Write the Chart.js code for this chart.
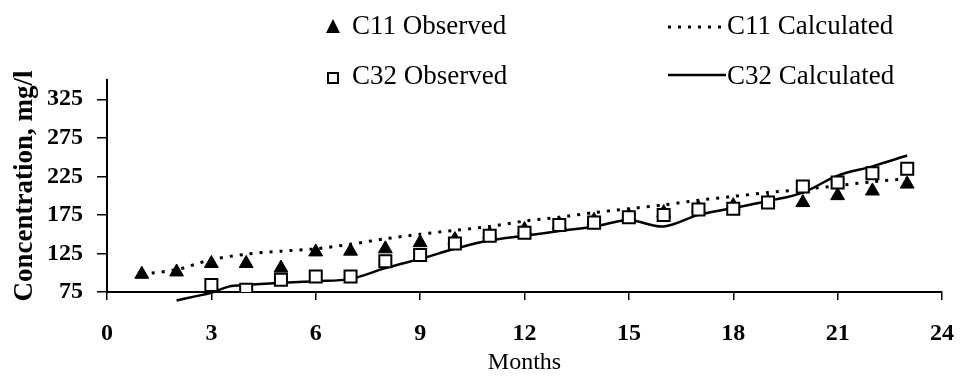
<!DOCTYPE html>
<html>
<head>
<meta charset="utf-8">
<script src="https://cdn.jsdelivr.net/npm/chart.js@4.4.0/dist/chart.umd.min.js"></script>
<style>
  html, body { margin: 0; padding: 0; background: #fff; }
  #wrap { width: 962px; height: 384px; }
</style>
</head>
<body>
<div id="wrap"><canvas id="chart"></canvas></div>
<script>
const months = [1, 2, 3, 4, 5, 6, 7, 8, 9, 10, 11, 12, 13, 14, 15, 16, 17, 18, 19, 20, 21, 22, 23];
const c11Observed = [98, 101, 112, 112, 106, 127, 128, 131, 139, 143, 150, 156, 163, 168, 174, 178, 184, 187, 192, 191, 200, 206, 215];
const c11Calculated = [98, 104, 117, 124, 128, 131, 137, 144, 150, 155, 160, 167, 172, 178, 183, 188, 194, 199, 204, 208, 213, 218, 222];

const c32Months = [3, 4, 5, 6, 7, 8, 9, 10, 11, 12, 13, 14, 15, 16, 17, 18, 19, 20, 21, 22, 23];
const c32Observed = [84, 78, 91, 95, 95, 115, 123, 138, 148, 152, 162, 165, 172, 175, 182, 183, 191, 212, 217, 229, 235];

const c32CalcMonths = [2, 2.5, 3, 3.5, 4, 5, 6, 7, 8, 9, 10, 11, 12, 13, 14, 15, 16, 17, 18, 19, 20, 21, 22, 23];
const c32Calculated = [64, 69, 74, 82, 84, 87, 89, 92, 106, 118, 131, 142, 148, 154, 160, 168, 160, 175, 184, 193, 204, 226, 238, 252];

const xTicks = [0, 3, 6, 9, 12, 15, 18, 21, 24];
const yTicks = [75, 125, 175, 225, 275, 325];

const FONT = "'Liberation Serif', 'Times New Roman', serif";

function toPoints(xs, ys) {
    return xs.map((x, i) => ({ x: x, y: ys[i] }));
}

// Legende in zwei Spalten wie im Original
const legendPlugin = {
    id: 'twoColLegend',
    afterDraw(chart) {
        const ctx = chart.ctx;
        const ds = chart.data.datasets;
        ctx.save();
        ctx.font = "27px " + FONT;
        ctx.fillStyle = '#000';
        ctx.textBaseline = 'middle';
        ctx.textAlign = 'left';

        // C11 Observed
        ctx.beginPath();
        ctx.moveTo(333, 19);
        ctx.lineTo(340, 33);
        ctx.lineTo(326, 33);
        ctx.closePath();
        ctx.fillStyle = ds[0].backgroundColor;
        ctx.fill();
        ctx.fillStyle = '#000';
        ctx.fillText(ds[0].label, 352, 27);

        // C32 Observed
        ctx.lineWidth = 2;
        ctx.strokeStyle = ds[2].borderColor;
        ctx.fillStyle = '#fff';
        ctx.fillRect(328, 73, 10, 10);
        ctx.strokeRect(328, 73, 10, 10);
        ctx.fillStyle = '#000';
        ctx.fillText(ds[2].label, 352, 77);

        // C11 Calculated
        ctx.beginPath();
        ctx.setLineDash(ds[1].borderDash);
        ctx.lineWidth = ds[1].borderWidth;
        ctx.strokeStyle = ds[1].borderColor;
        ctx.moveTo(668, 27);
        ctx.lineTo(724, 27);
        ctx.stroke();
        ctx.fillText(ds[1].label, 727, 27);

        // C32 Calculated
        ctx.beginPath();
        ctx.setLineDash([]);
        ctx.lineWidth = ds[3].borderWidth;
        ctx.strokeStyle = ds[3].borderColor;
        ctx.moveTo(668, 75);
        ctx.lineTo(726, 75);
        ctx.stroke();
        ctx.fillText(ds[3].label, 727, 77);
        ctx.restore();
    }
};

const ctx = document.getElementById('chart').getContext('2d');
const chart = new Chart(ctx, {
    type: 'line',
    data: {
        datasets: [
            {
                label: 'C11 Observed',
                data: toPoints(months, c11Observed),
                showLine: false,
                pointStyle: 'triangle',
                pointRadius: 8,
                backgroundColor: '#000',
                borderColor: '#000',
                pointBorderWidth: 1,
                order: 1
            },
            {
                label: 'C11 Calculated',
                data: toPoints(months, c11Calculated),
                borderColor: '#000',
                borderWidth: 3,
                borderDash: [3, 7],
                pointRadius: 0,
                tension: 0.3,
                fill: false,
                order: 3
            },
            {
                label: 'C32 Observed',
                data: toPoints(c32Months, c32Observed),
                showLine: false,
                pointStyle: 'rect',
                pointRadius: 8.5,
                backgroundColor: '#fff',
                borderColor: '#000',
                pointBorderWidth: 2,
                order: 0
            },
            {
                label: 'C32 Calculated',
                data: toPoints(c32CalcMonths, c32Calculated),
                borderColor: '#000',
                borderWidth: 2.5,
                pointRadius: 0,
                tension: 0.35,
                fill: false,
                clip: false,
                order: 2
            }
        ]
    },
    options: {
        responsive: true,
        maintainAspectRatio: false,
        animation: false,
        layout: {
            padding: { top: 80, left: 9, right: 20, bottom: 7 }
        },
        scales: {
            x: {
                type: 'linear',
                min: 0,
                max: 24,
                afterBuildTicks: scale => { scale.ticks = xTicks.map(v => ({ value: v })); },
                afterFit: scale => {
                    scale.height = 384 - 292 - 7;
                    scale.paddingLeft = 0;
                    scale.paddingRight = 0;
                },
                border: { display: true, color: '#000', width: 2 },
                grid: { drawOnChartArea: false, color: '#000', tickLength: 8, lineWidth: 1.5 },
                ticks: {
                    color: '#000',
                    padding: 19,
                    maxRotation: 0,
                    font: { family: FONT, size: 24, weight: 'bold' }
                },
                title: {
                    display: true,
                    text: 'Months',
                    color: '#000',
                    padding: 0,
                    font: { family: FONT, size: 24 }
                }
            },
            y: {
                min: 75,
                max: 350,
                afterBuildTicks: scale => { scale.ticks = yTicks.map(v => ({ value: v })); },
                afterFit: scale => { scale.width = 107 - 9; },
                border: { display: true, color: '#000', width: 2 },
                grid: { drawOnChartArea: false, color: '#000', tickLength: 10, lineWidth: 1.5 },
                ticks: {
                    color: '#000',
                    padding: 14,
                    font: { family: FONT, size: 24, weight: 'bold' }
                },
                title: {
                    display: true,
                    text: 'Concentration, mg/l',
                    color: '#000',
                    padding: 0,
                    font: { family: FONT, size: 27, weight: 'bold' }
                }
            }
        },
        plugins: {
            legend: { display: false },
            tooltip: { enabled: false }
        }
    },
    plugins: [legendPlugin]
});
</script>
</body>
</html>
